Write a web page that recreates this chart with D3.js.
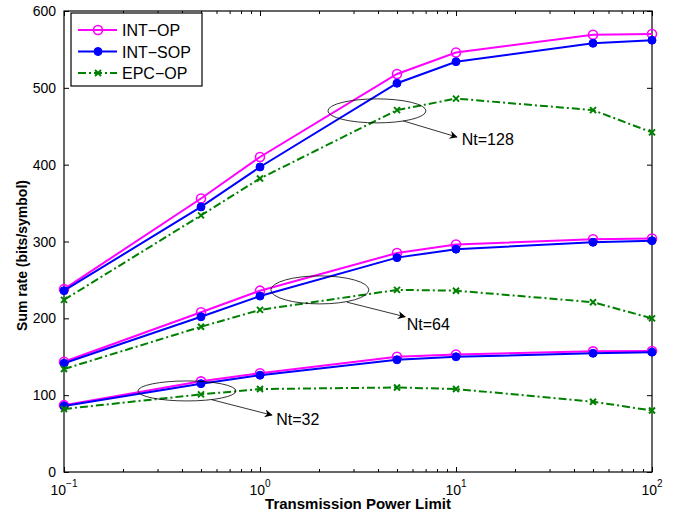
<!DOCTYPE html>
<html>
<head>
<meta charset="utf-8">
<script src="https://cdn.jsdelivr.net/npm/d3@7/dist/d3.min.js"></script>
<style>
  html, body { margin: 0; padding: 0; background: #fff; }
  svg { display: block; font-family: "Liberation Sans", Arial, Helvetica, sans-serif; }
</style>
</head>
<body>
<svg id="chart" width="679" height="519"></svg>
<script>
// ---- data ----
const powerLimits = [0.1, 0.5, 1, 5, 10, 50, 100];

const intOp128  = [238, 356, 410, 518, 546, 569, 570];
const intSop128 = [236, 345, 397, 506, 534, 558, 562];
const epcOp128  = [224, 334, 382, 471, 486, 471, 442];

const intOp64  = [143.5, 208, 236, 285, 296, 303, 304];
const intSop64 = [141.5, 202, 229, 279, 290, 299, 301];
const epcOp64  = [134, 189, 211, 237, 236, 221, 200];

const intOp32  = [87, 118, 128.5, 150, 153, 157, 157.5];
const intSop32 = [86, 115, 126, 146, 150, 154.5, 156];
const epcOp32  = [82, 101, 108, 110, 108, 91.5, 80];

const yTicks = [0, 100, 200, 300, 400, 500, 600];
const xTicks = [0.1, 1, 10, 100];
const xTickExponents = ["-1", "0", "1", "2"];
const seriesNames = ["INT\u2212OP", "INT\u2212SOP", "EPC\u2212OP"];
const groupLabels = ["Nt=128", "Nt=64", "Nt=32"];

// ---- layout ----
const svg = d3.select("#chart");
const pL = 64, pR = 652, pT = 11, pB = 472;

const x = d3.scaleLog().domain([0.1, 100]).range([pL, pR]);
const y = d3.scaleLinear().domain([0, 600]).range([pB, pT]);

const colors = { op: "#ff00ff", sop: "#0000ff", epc: "#008000" };

// minor ticks for log axis
const minorTicks = [];
[0.1, 1, 10].forEach(d => { for (let k = 2; k <= 9; k++) minorTicks.push(d * k); });

function styleAxis(g) {
  g.select(".domain").remove();
  g.selectAll("line").attr("stroke", "#000").attr("stroke-width", 1);
  g.selectAll("text").remove();
}

// major/minor ticks bottom & top (inward)
svg.append("g").attr("transform", `translate(0,${pB})`)
  .call(d3.axisBottom(x).tickValues(xTicks).tickSize(-5)).call(styleAxis);
svg.append("g").attr("transform", `translate(0,${pB})`)
  .call(d3.axisBottom(x).tickValues(minorTicks).tickSize(-3)).call(styleAxis);
svg.append("g").attr("transform", `translate(0,${pT})`)
  .call(d3.axisTop(x).tickValues(xTicks).tickSize(-5)).call(styleAxis);
svg.append("g").attr("transform", `translate(0,${pT})`)
  .call(d3.axisTop(x).tickValues(minorTicks).tickSize(-3)).call(styleAxis);
// y ticks left & right
svg.append("g").attr("transform", `translate(${pL},0)`)
  .call(d3.axisLeft(y).tickValues(yTicks).tickSize(-5)).call(styleAxis);
svg.append("g").attr("transform", `translate(${pR},0)`)
  .call(d3.axisRight(y).tickValues(yTicks).tickSize(-5)).call(styleAxis);

// box
svg.append("rect")
  .attr("x", pL).attr("y", pT)
  .attr("width", pR - pL).attr("height", pB - pT)
  .attr("fill", "none").attr("stroke", "#000").attr("stroke-width", 1.2);

// y tick labels
svg.append("g").selectAll("text").data(yTicks).join("text")
  .attr("x", pL - 8).attr("y", d => y(d) + 5)
  .attr("text-anchor", "end").attr("font-size", 14).attr("fill", "#000")
  .text(d => d);

// x tick labels 10^n
const xl = svg.append("g").selectAll("text").data(xTicks).join("text")
  .attr("x", d => x(d)).attr("y", pB + 23)
  .attr("text-anchor", "middle").attr("font-size", 14).attr("fill", "#000");
xl.append("tspan").text("10");
xl.append("tspan").attr("dy", -8).attr("font-size", 10)
  .text((d, i) => xTickExponents[i].replace("-", "\u2212"));

// axis titles
svg.append("text").attr("x", (pL + pR) / 2).attr("y", 509)
  .attr("text-anchor", "middle").attr("font-size", 15).attr("font-weight", "bold")
  .text("Transmission Power Limit");
svg.append("text")
  .attr("transform", `translate(27,${(pT + pB) / 2 + 14}) rotate(-90)`)
  .attr("text-anchor", "middle").attr("font-size", 14).attr("font-weight", "bold")
  .text("Sum rate (bits/symbol)");

// ---- lines ----
const line = d3.line().x((d, i) => x(powerLimits[i])).y(d => y(d));
const dashDot = "8,3,2,3";

function drawSeries(values, kind) {
  const g = svg.append("g");
  g.append("path").datum(values)
    .attr("d", line).attr("fill", "none")
    .attr("stroke", colors[kind]).attr("stroke-width", 2)
    .attr("stroke-dasharray", kind === "epc" ? dashDot : null);
  drawMarkers(g, values.map((v, i) => [x(powerLimits[i]), y(v)]), kind);
}

function drawMarkers(g, pts, kind) {
  if (kind === "op") {
    g.selectAll("circle").data(pts).join("circle")
      .attr("cx", d => d[0]).attr("cy", d => d[1]).attr("r", 4.5)
      .attr("fill", "none").attr("stroke", colors.op).attr("stroke-width", 1.6);
  } else if (kind === "sop") {
    g.selectAll("circle").data(pts).join("circle")
      .attr("cx", d => d[0]).attr("cy", d => d[1]).attr("r", 4)
      .attr("fill", colors.sop).attr("stroke", colors.sop).attr("stroke-width", 1);
  } else {
    const s = 3;
    g.selectAll("path.mk").data(pts).join("path").attr("class", "mk")
      .attr("d", d => `M${d[0]-s},${d[1]-s}L${d[0]+s},${d[1]+s}M${d[0]-s},${d[1]+s}L${d[0]+s},${d[1]-s}`)
      .attr("stroke", colors.epc).attr("stroke-width", 2).attr("fill", "none");
  }
}

[[intOp128, "op"], [intSop128, "sop"], [epcOp128, "epc"],
 [intOp64, "op"], [intSop64, "sop"], [epcOp64, "epc"],
 [intOp32, "op"], [intSop32, "sop"], [epcOp32, "epc"]].forEach(([v, k]) => drawSeries(v, k));

// ---- annotations (ellipses + arrows) ----
const defs = svg.append("defs");
defs.append("marker").attr("id", "arr").attr("viewBox", "0 0 10 10")
  .attr("refX", 9).attr("refY", 5).attr("markerWidth", 10).attr("markerHeight", 8)
  .attr("markerUnits", "userSpaceOnUse").attr("orient", "auto")
  .append("path").attr("d", "M0,0 L10,5 L0,10 L3,5 Z").attr("fill", "#000");

const annots = [
  { label: groupLabels[0], cx: 3.95, cy: 470, rx: 49, ry: 12, sx: 5.37, sy: 457, ex: 10.1, ey: 436, tx: 10.7, ty: 425 },
  { label: groupLabels[1], cx: 2.02, cy: 237, rx: 49, ry: 14, sx: 2.78, sy: 221, ex: 5.5, ey: 202, tx: 5.6, ty: 185 },
  { label: groupLabels[2], cx: 0.424, cy: 105.5, rx: 49, ry: 10, sx: 0.569, sy: 94, ex: 1.15, ey: 74, tx: 1.21, ty: 61 }
];
annots.forEach(a => {
  svg.append("ellipse").attr("cx", x(a.cx)).attr("cy", y(a.cy))
    .attr("rx", a.rx).attr("ry", a.ry)
    .attr("fill", "none").attr("stroke", "#000").attr("stroke-width", 0.8);
  svg.append("line").attr("x1", x(a.sx)).attr("y1", y(a.sy))
    .attr("x2", x(a.ex)).attr("y2", y(a.ey))
    .attr("stroke", "#000").attr("stroke-width", 0.8).attr("marker-end", "url(#arr)");
  svg.append("text").attr("x", x(a.tx)).attr("y", y(a.ty))
    .attr("font-size", 16).attr("fill", "#000").text(a.label);
});

// ---- legend ----
const lg = svg.append("g");
lg.append("rect").attr("x", 71).attr("y", 13).attr("width", 131).attr("height", 73)
  .attr("fill", "#fff").attr("stroke", "#000").attr("stroke-width", 1.2);
const kinds = ["op", "sop", "epc"];
kinds.forEach((k, i) => {
  const yy = 30 + i * 21.5;
  const g = lg.append("g");
  g.append("line").attr("x1", 78).attr("x2", 117).attr("y1", yy).attr("y2", yy)
    .attr("stroke", colors[k]).attr("stroke-width", 2)
    .attr("stroke-dasharray", k === "epc" ? dashDot : null);
  drawMarkers(g, [[98, yy]], k);
  lg.append("text").attr("x", 122).attr("y", yy + 6).attr("font-size", 16)
    .attr("fill", "#000").text(seriesNames[i]);
});
</script>
</body>
</html>
